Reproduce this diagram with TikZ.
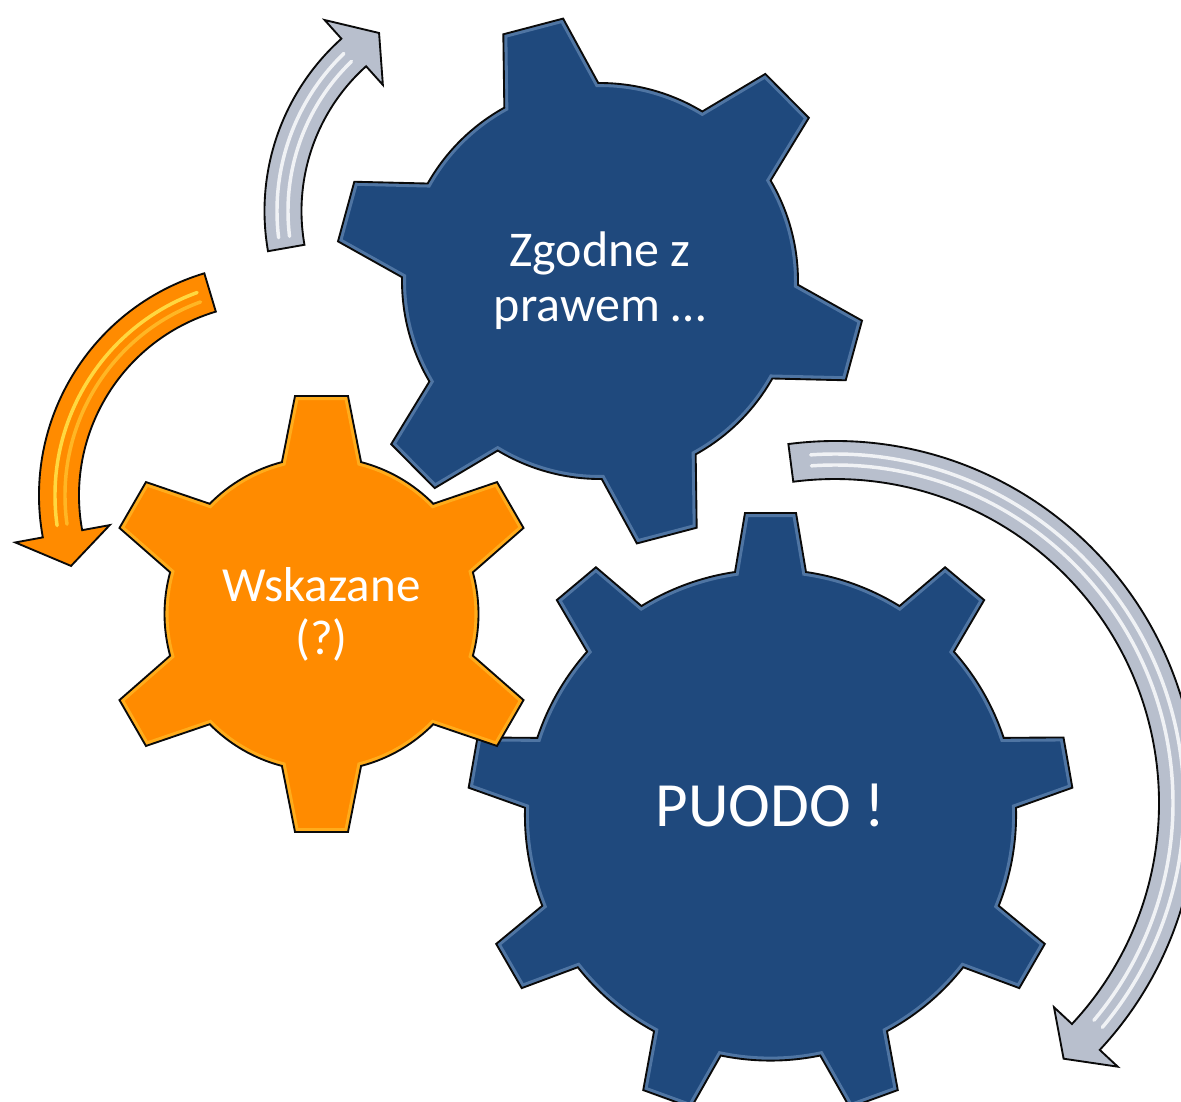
\documentclass[tikz,border=0pt]{standalone}
\usepackage{fontspec}
\setmainfont{Carlito}
\definecolor{gblue}{RGB}{31,73,125}
\definecolor{gorange}{RGB}{255,139,0}
\definecolor{ggrey}{RGB}{184,191,205}
\definecolor{gline}{RGB}{10,10,10}
\definecolor{hlyellow}{RGB}{255,236,80}
\definecolor{hlblue}{RGB}{170,200,235}

% gear: cx, cy (screen px), teeth, offset angle, outer corner radius, outer half angle, root radius, root half angle, style
\newcommand{\mygear}[9]{%
  \pgfmathsetmacro{\gstep}{360/#3}%
  \pgfmathtruncatemacro{\glast}{#3-1}%
  \path[shift={(#1,-#2)},#9] ({#4-#8}:#7)
    \foreach \k in {0,...,\glast}{
      -- ({#4+\k*\gstep-#6}:#5) -- ({#4+\k*\gstep+#6}:#5) -- ({#4+\k*\gstep+#8}:#7)
      arc[start angle={#4+\k*\gstep+#8}, end angle={#4+(\k+1)*\gstep-#8}, radius={#7*0.75pt}]
    } -- cycle;
}
% circular arrow: cx, cy, r, band half width, head half width, base angle, barb angle, tip angle, style
\newcommand{\myarrow}[9]{%
  \path[shift={(#1,-#2)},#9] ({#6}:{#3+#4})
    arc[start angle={#6}, end angle={#7}, radius={(#3+#4)*0.75pt}]
    -- ({#7}:{#3+#5}) -- ({#8}:{#3}) -- ({#7}:{#3-#5}) -- ({#7}:{#3-#4})
    arc[start angle={#7}, end angle={#6}, radius={(#3-#4)*0.75pt}] -- cycle;
}
% highlight stripe: cx, cy, radius, start, end, style
\newcommand{\mystripe}[6]{%
  \draw[shift={(#1,-#2)},#6] ({#4}:{#3}) arc[start angle={#4}, end angle={#5}, radius={#3*0.75pt}];
}

\begin{document}
\begin{tikzpicture}[x=0.75pt,y=0.75pt,
  outline/.style={draw=gline,line width=1.4pt,line join=miter},
  glowblue/.style={draw=hlblue,line width=6pt,opacity=0.35},
  gloworange/.style={draw=hlyellow,line width=6pt,opacity=0.35},
  stripewhite/.style={white,line width=2.6pt,opacity=0.8,line cap=round},
  stripeyellow/.style={hlyellow,line width=2.6pt,opacity=0.8,line cap=round},
  gtext/.style={text=white,align=center,inner sep=0pt}]
\useasboundingbox (0,0) rectangle (1181,-1101);
\clip (0,0) rectangle (1181,-1101);
\fill[white] (0,0) rectangle (1181,-1101);

% big gear (PUODO)
\mygear{770.5}{815}{9}{90}{303.1}{4.83}{245.6}{8.31}{fill=gblue}
\begin{scope}
  \mygear{770.5}{815}{9}{90}{303.1}{4.83}{245.6}{8.31}{clip}
  \mygear{770.5}{815}{9}{90}{303.1}{4.83}{245.6}{8.31}{glowblue}
\end{scope}
\mygear{770.5}{815}{9}{90}{303.1}{4.83}{245.6}{8.31}{outline}

% top gear (Zgodne z prawem)
\mygear{600}{281}{6}{104.7}{265}{6.7}{198}{14.2}{fill=gblue}
\begin{scope}
  \mygear{600}{281}{6}{104.7}{265}{6.7}{198}{14.2}{clip}
  \mygear{600}{281}{6}{104.7}{265}{6.7}{198}{14.2}{glowblue}
\end{scope}
\mygear{600}{281}{6}{104.7}{265}{6.7}{198}{14.2}{outline}

% orange gear (Wskazane)
\mygear{321.5}{614}{6}{90}{219.6}{6.93}{157}{14.6}{fill=gorange}
\begin{scope}
  \mygear{321.5}{614}{6}{90}{219.6}{6.93}{157}{14.6}{clip}
  \mygear{321.5}{614}{6}{90}{219.6}{6.93}{157}{14.6}{gloworange}
\end{scope}
\mygear{321.5}{614}{6}{90}{219.6}{6.93}{157}{14.6}{outline}

% arrows
\myarrow{496}{211}{213}{18.5}{43.6}{190}{131.9}{123.3}{fill=ggrey}
\mystripe{496}{211}{219}{187}{134}{stripewhite}
\mystripe{496}{211}{208}{187}{134}{stripewhite}
\myarrow{496}{211}{213}{18.5}{43.6}{190}{131.9}{123.3}{outline}

\myarrow{271}{495.5}{212}{20}{48}{106.7}{190.4}{199.4}{fill=gorange}
\mystripe{271}{495.5}{216}{110}{188}{stripeyellow}
\mystripe{271}{495.5}{206}{110}{188}{stripeyellow,opacity=0.45}
\myarrow{271}{495.5}{212}{20}{48}{106.7}{190.4}{199.4}{outline}

\myarrow{835}{803}{343}{19}{43.6}{97.4}{-43}{-48.2}{fill=ggrey}
\mystripe{835}{803}{349}{94}{-40}{stripewhite}
\mystripe{835}{803}{338}{94}{-40}{stripewhite}
\myarrow{835}{803}{343}{19}{43.6}{97.4}{-43}{-48.2}{outline}

% labels
\node[gtext,font=\fontsize{37.5pt}{41.25pt}\selectfont] (zgodne) at (600,-281) {Zgodne z\\prawem …};
\node[gtext,font=\fontsize{36.75pt}{39.75pt}\selectfont] (wskazane) at (321.5,-614.5) {Wskazane\\(?)};
\node[gtext,font=\fontsize{47.25pt}{52pt}\selectfont] (puodo) at (770.5,-805) {PUODO !};
\end{tikzpicture}
\end{document}
